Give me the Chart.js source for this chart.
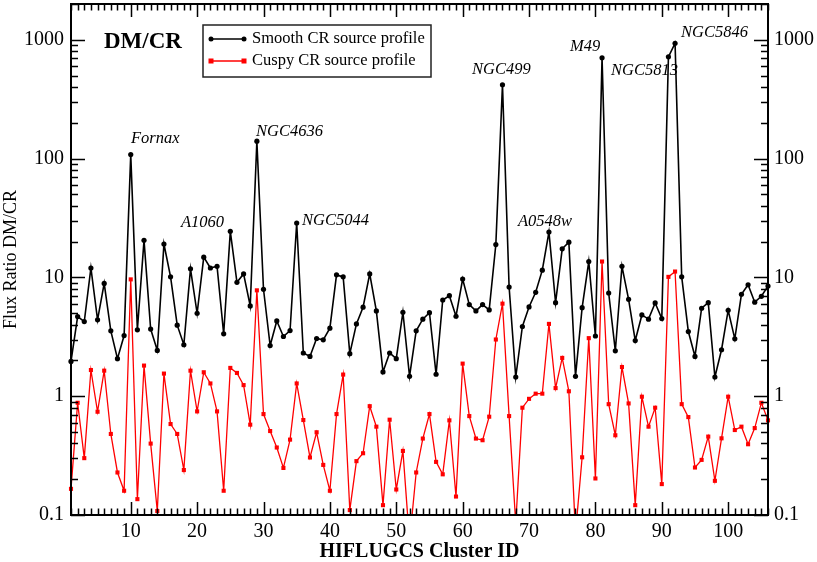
<!DOCTYPE html>
<html>
<head>
<meta charset="utf-8">
<script src="https://cdn.jsdelivr.net/npm/chart.js@4/dist/chart.umd.min.js"></script>
<style>
html,body{margin:0;padding:0;background:#fff;}
canvas{display:block;}
</style>
</head>
<body>
<canvas id="c" width="817" height="562"></canvas>
<script>
// HIFLUGCS cluster IDs 1..106
const clusterIds = Array.from({length: 106}, (_, i) => i + 1);

// Smooth CR source profile (black)
const smoothRatio = [
  1.96, 4.68, 4.25, 12.0, 4.39, 8.9, 3.55, 2.07, 3.24, 108,
  3.62, 20.5, 3.67, 2.43, 19.1, 10.1, 3.96, 2.71, 11.8, 4.99,
  14.8, 12.0, 12.4, 3.35, 24.4, 9.08, 10.7, 5.75, 140, 7.94,
  2.67, 4.30, 3.18, 3.57, 28.7, 2.31, 2.16, 3.06, 2.98, 3.74,
  10.5, 10.1, 2.28, 4.06, 5.61, 10.7, 5.22, 1.60, 2.31, 2.07,
  5.09, 1.47, 3.55, 4.45, 5.05, 1.53, 6.45, 7.01, 4.71, 9.68,
  5.90, 5.22, 5.90, 5.32, 18.9, 418, 8.29, 1.45, 3.86, 5.64,
  7.49, 11.5, 24.1, 6.13, 17.4, 19.8, 1.47, 5.56, 13.6, 3.21,
  704, 7.39, 2.41, 12.4, 6.54, 2.94, 4.83, 4.45, 6.09, 4.50,
  718, 935, 10.1, 3.50, 2.16, 5.50, 6.13, 1.45, 2.46, 5.29,
  3.04, 7.21, 8.67, 6.18, 6.93, 8.45
];

// Cuspy CR source profile (red)
const cuspyRatio = [
  0.166, 0.88, 0.301, 1.66, 0.74, 1.64, 0.481, 0.228, 0.160, 9.62,
  0.136, 1.81, 0.399, 0.108, 1.55, 0.583, 0.481, 0.239, 1.64, 0.745,
  1.59, 1.28, 0.745, 0.160, 1.73, 1.57, 1.24, 0.576, 7.78, 0.707,
  0.509, 0.370, 0.249, 0.431, 1.28, 0.630, 0.305, 0.497, 0.264, 0.160,
  0.707, 1.52, 0.110, 0.284, 0.331, 0.824, 0.554, 0.121, 0.634, 0.164,
  0.346, 0.06, 0.228, 0.440, 0.707, 0.280, 0.220, 0.626, 0.143, 1.88,
  0.680, 0.440, 0.426, 0.672, 3.00, 6.01, 0.680, 0.085, 0.80, 0.95,
  1.05, 1.05, 4.06, 1.17, 2.10, 1.10, 0.07, 0.306, 3.08, 0.203,
  13.6, 0.857, 0.469, 1.76, 0.869, 0.121, 0.99, 0.554, 0.80, 0.182,
  10.1, 11.2, 0.857, 0.667, 0.251, 0.291, 0.457, 0.194, 0.442, 0.99,
  0.519, 0.554, 0.394, 0.539, 0.88, 0.626
];

const xTickValues = [10, 20, 30, 40, 50, 60, 70, 80, 90, 100];
const yTickValues = [0.1, 1, 10, 100, 1000];
const yTickLabels = ['0.1', '1', '10', '100', '1000'];

const seriesNames = ['Smooth CR source profile', 'Cuspy CR source profile'];
const peakLabels = ['Fornax', 'NGC4636', 'A1060', 'NGC5044', 'NGC499', 'A0548w', 'M49', 'NGC5813', 'NGC5846'];

const SERIF = '"Liberation Serif", "Times New Roman", serif';

const chartDecor = {
  id: 'chartDecor',
  beforeDraw(chart) {
    const ctx = chart.ctx;
    ctx.save();
    ctx.fillStyle = '#fff';
    ctx.fillRect(0, 0, chart.width, chart.height);
    ctx.restore();
  },
  afterDatasetsDraw(chart) {
    const ctx = chart.ctx;
    const a = chart.chartArea;
    const x = chart.scales.x, y = chart.scales.y;
    ctx.save();
    ctx.strokeStyle = '#000';
    ctx.lineWidth = 1.5;
    ctx.beginPath();
    // x ticks (bottom & top), inward
    for (let v = 1; v <= 106; v++) {
      const px = Math.round(x.getPixelForValue(v)) + 0.5;
      const L = (v % 10 === 0) ? 13 : 6.5;
      ctx.moveTo(px, a.bottom); ctx.lineTo(px, a.bottom - L);
      ctx.moveTo(px, a.top); ctx.lineTo(px, a.top + L);
    }
    // y ticks (left & right), inward
    for (let d = 0.1; d <= 1000.1; d *= 10) {
      for (let k = 1; k <= 9; k++) {
        const v = d * k;
        if (v > 2000) break;
        const py = Math.round(y.getPixelForValue(v)) + 0.5;
        const L = (k === 1) ? 14 : 7;
        ctx.moveTo(a.left, py); ctx.lineTo(a.left + L, py);
        ctx.moveTo(a.right, py); ctx.lineTo(a.right - L, py);
      }
    }
    ctx.stroke();
    // frame
    ctx.lineWidth = 2;
    ctx.strokeRect(a.left, a.top, a.right - a.left, a.bottom - a.top);

    // tick labels
    ctx.fillStyle = '#000';
    ctx.font = '20px ' + SERIF;
    ctx.textBaseline = 'middle';
    ctx.textAlign = 'center';
    xTickValues.forEach(v => {
      ctx.fillText(String(v), x.getPixelForValue(v), 532);
    });
    yTickValues.forEach((v, i) => {
      const py = y.getPixelForValue(v);
      ctx.textAlign = 'right';
      ctx.fillText(yTickLabels[i], a.left - 7, py);
      ctx.textAlign = 'left';
      ctx.fillText(yTickLabels[i], a.right + 6, py);
    });

    // axis titles
    ctx.textAlign = 'center';
    ctx.font = 'bold 20px ' + SERIF;
    ctx.fillText('HIFLUGCS Cluster ID', (a.left + a.right) / 2, 552);
    ctx.save();
    ctx.translate(11, (a.top + a.bottom) / 2);
    ctx.rotate(-Math.PI / 2);
    ctx.font = '18px ' + SERIF;
    ctx.fillText('Flux Ratio DM/CR', 0, 0);
    ctx.restore();

    // panel label
    ctx.textAlign = 'left';
    ctx.font = 'bold 23px ' + SERIF;
    ctx.fillText('DM/CR', 104, 42);

    // peak annotations (italic)
    ctx.font = 'italic 16.5px ' + SERIF;
    const annPos = [
      [131, 139], [256, 132], [181, 223], [302, 221], [472, 70],
      [518, 222], [570, 47], [611, 71], [681, 33]
    ];
    peakLabels.forEach((t, i) => ctx.fillText(t, annPos[i][0], annPos[i][1]));

    // legend
    const lx = 203, ly = 25, lw = 228, lh = 52;
    ctx.fillStyle = '#fff';
    ctx.fillRect(lx, ly, lw, lh);
    ctx.strokeStyle = '#222';
    ctx.lineWidth = 1.5;
    ctx.strokeRect(lx, ly, lw, lh);
    const rows = [39, 61];
    const colors = ['#000000', '#ff0000'];
    rows.forEach((ry, i) => {
      ctx.strokeStyle = colors[i];
      ctx.lineWidth = 1.5;
      ctx.beginPath();
      ctx.moveTo(211, ry); ctx.lineTo(244, ry);
      ctx.stroke();
      ctx.fillStyle = colors[i];
      [211, 244].forEach(mx => {
        if (i === 0) {
          ctx.beginPath(); ctx.arc(mx, ry, 2.5, 0, Math.PI * 2); ctx.fill();
        } else {
          ctx.fillRect(mx - 2.5, ry - 2.5, 5, 5);
        }
      });
      ctx.fillStyle = '#000';
      ctx.font = '16.5px ' + SERIF;
      ctx.textAlign = 'left';
      ctx.textBaseline = 'middle';
      ctx.fillText(seriesNames[i], 252, ry);
    });
    ctx.restore();
  }
};

new Chart(document.getElementById('c'), {
  type: 'line',
  data: {
    datasets: [
      {
        label: seriesNames[0],
        data: clusterIds.map((id, i) => ({x: id, y: smoothRatio[i]})),
        borderColor: '#000000',
        backgroundColor: '#000000',
        borderWidth: 1.6,
        pointStyle: 'circle',
        pointRadius: 2.6,
        pointBorderWidth: 0,
        tension: 0,
        clip: {left: 5, right: 5, top: 0, bottom: 0}
      },
      {
        label: seriesNames[1],
        data: clusterIds.map((id, i) => ({x: id, y: cuspyRatio[i]})),
        borderColor: '#ff0000',
        backgroundColor: '#ff0000',
        borderWidth: 1.3,
        pointStyle: 'rect',
        pointRadius: 2.9,
        pointBorderWidth: 0,
        tension: 0,
        clip: {left: 5, right: 5, top: 0, bottom: 0}
      }
    ]
  },
  options: {
    responsive: false,
    animation: false,
    devicePixelRatio: 1,
    layout: {padding: {left: 71, right: 49, top: 3, bottom: 47}},
    plugins: {legend: {display: false}, tooltip: {enabled: false}},
    scales: {
      x: {type: 'linear', min: 1, max: 106, display: false},
      y: {type: 'logarithmic', min: 0.1, max: 2000, display: false}
    }
  },
  plugins: [chartDecor]
});
</script>
</body>
</html>
